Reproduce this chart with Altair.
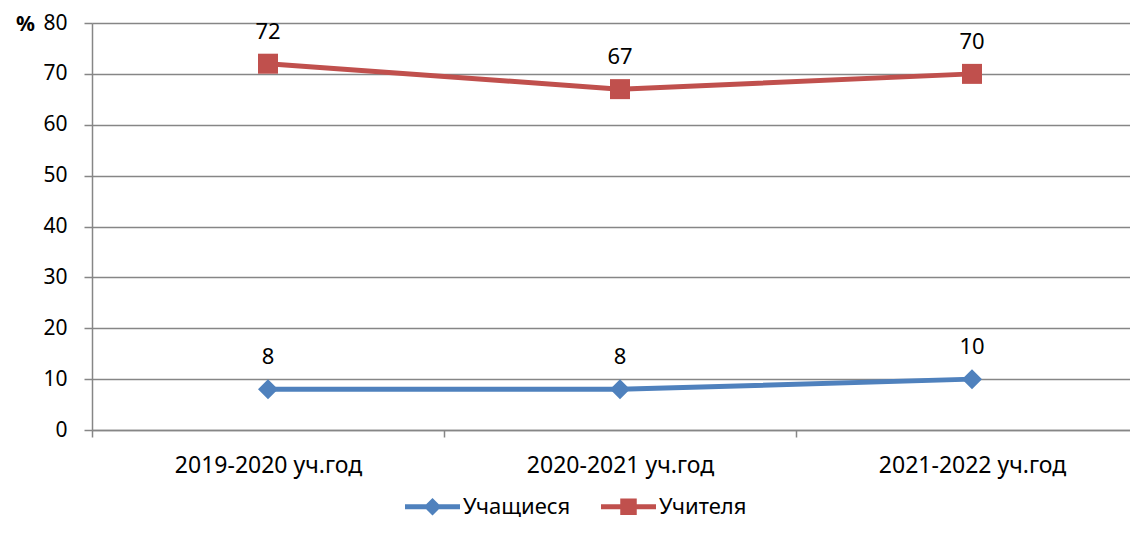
import altair as alt
import pandas as pd

years = ["2019-2020 уч.год", "2020-2021 уч.год", "2021-2022 уч.год"]
students = [8, 8, 10]
teachers = [72, 67, 70]
series = ["Учащиеся", "Учителя"]
colors = ["#4F81BD", "#C0504D"]
shapes = ["diamond", "square"]
# legend symbols: a horizontal line segment with the series marker on it
legend_shapes = [
    "M-1,-0.09L1,-0.09L1,0.09L-1,0.09Z M0,-0.32L0.32,0L0,0.32L-0.32,0Z",
    "M-1,-0.09L1,-0.09L1,0.09L-1,0.09Z M-0.3,-0.3L0.3,-0.3L0.3,0.3L-0.3,0.3Z",
]

rows = []
for y, s, t in zip(years, students, teachers):
    rows.append({"year": y, "series": series[0], "value": s})
    rows.append({"year": y, "series": series[1], "value": t})
df = pd.DataFrame(rows)

FONT = "Noto Sans"
GRAY = "#868686"

xenc = alt.X(
    "year:N",
    sort=years,
    bandPosition=0.5,
    scale=alt.Scale(type="band", paddingInner=0, paddingOuter=0, range=[0, 1056]),
    axis=alt.Axis(
        title=None,
        labelAngle=0,
        labelFontSize=23,
        labelFont=FONT,
        labelColor="#000000",
        labelPadding=17,
        labelLimit=400,
        tickBand="extent",
        tickSize=7,
        tickColor=GRAY,
        tickWidth=1.5,
        domainColor=GRAY,
        domainWidth=1.5,
        grid=False,
    ),
)
yenc = alt.Y(
    "value:Q",
    scale=alt.Scale(domain=[0, 80], nice=False),
    axis=alt.Axis(
        title="%",
        titleAngle=0,
        titleFont=FONT,
        titleFontSize=21,
        titleFontWeight="bold",
        titleColor="#000000",
        titleAlign="center",
        titleBaseline="middle",
        titleX=-67,
        titleY=1,
        values=list(range(0, 81, 10)),
        labelFontSize=21,
        labelFont=FONT,
        labelColor="#000000",
        labelPadding=17,
        tickSize=8,
        tickColor=GRAY,
        tickWidth=1.5,
        domainColor=GRAY,
        domainWidth=1.5,
        gridColor=GRAY,
        gridWidth=1.5,
    ),
)
cscale = alt.Scale(domain=series, range=colors)

base = alt.Chart(df).encode(
    x=xenc, y=yenc, color=alt.Color("series:N", scale=cscale, legend=None)
)
lines = base.mark_line(strokeWidth=5)
points = base.mark_point(filled=True, size=400, opacity=1).encode(
    shape=alt.Shape("series:N", scale=alt.Scale(domain=series, range=shapes), legend=None)
)
labels = base.mark_text(
    dy=-32, fontSize=22, font=FONT, baseline="middle", align="center"
).encode(text="value:Q", color=alt.value("#000000"))

leg_props = dict(
    title=None,
    orient="none",
    direction="horizontal",
    legendX=313,
    legendY=456,
    symbolSize=3025,
    symbolStrokeWidth=0,
    labelFont=FONT,
    labelFontSize=22,
    labelColor="#000000",
    labelOffset=3,
    labelLimit=300,
    columnPadding=30,
    gridAlign="all",
)
leg_layer = (
    alt.Chart(pd.DataFrame({"series": series}))
    .transform_filter("false")
    .mark_point(filled=True, opacity=1)
    .encode(
        color=alt.Color("series:N", scale=cscale, legend=alt.Legend(**leg_props)),
        shape=alt.Shape(
            "series:N",
            scale=alt.Scale(domain=series, range=legend_shapes),
            legend=alt.Legend(**leg_props),
        ),
    )
)

chart = (
    alt.layer(lines, points, labels, leg_layer)
    .resolve_scale(color="independent", shape="independent")
    .properties(
        width=1038,
        height=407,
        autosize=alt.AutoSizeParams(type="none"),
        padding={"left": 84, "top": 15, "right": 0, "bottom": 91},
    )
    .configure_view(strokeWidth=0)
    .configure(background="white")
)

chart.save("out.html", embed_options={"renderer": "svg", "actions": False})
